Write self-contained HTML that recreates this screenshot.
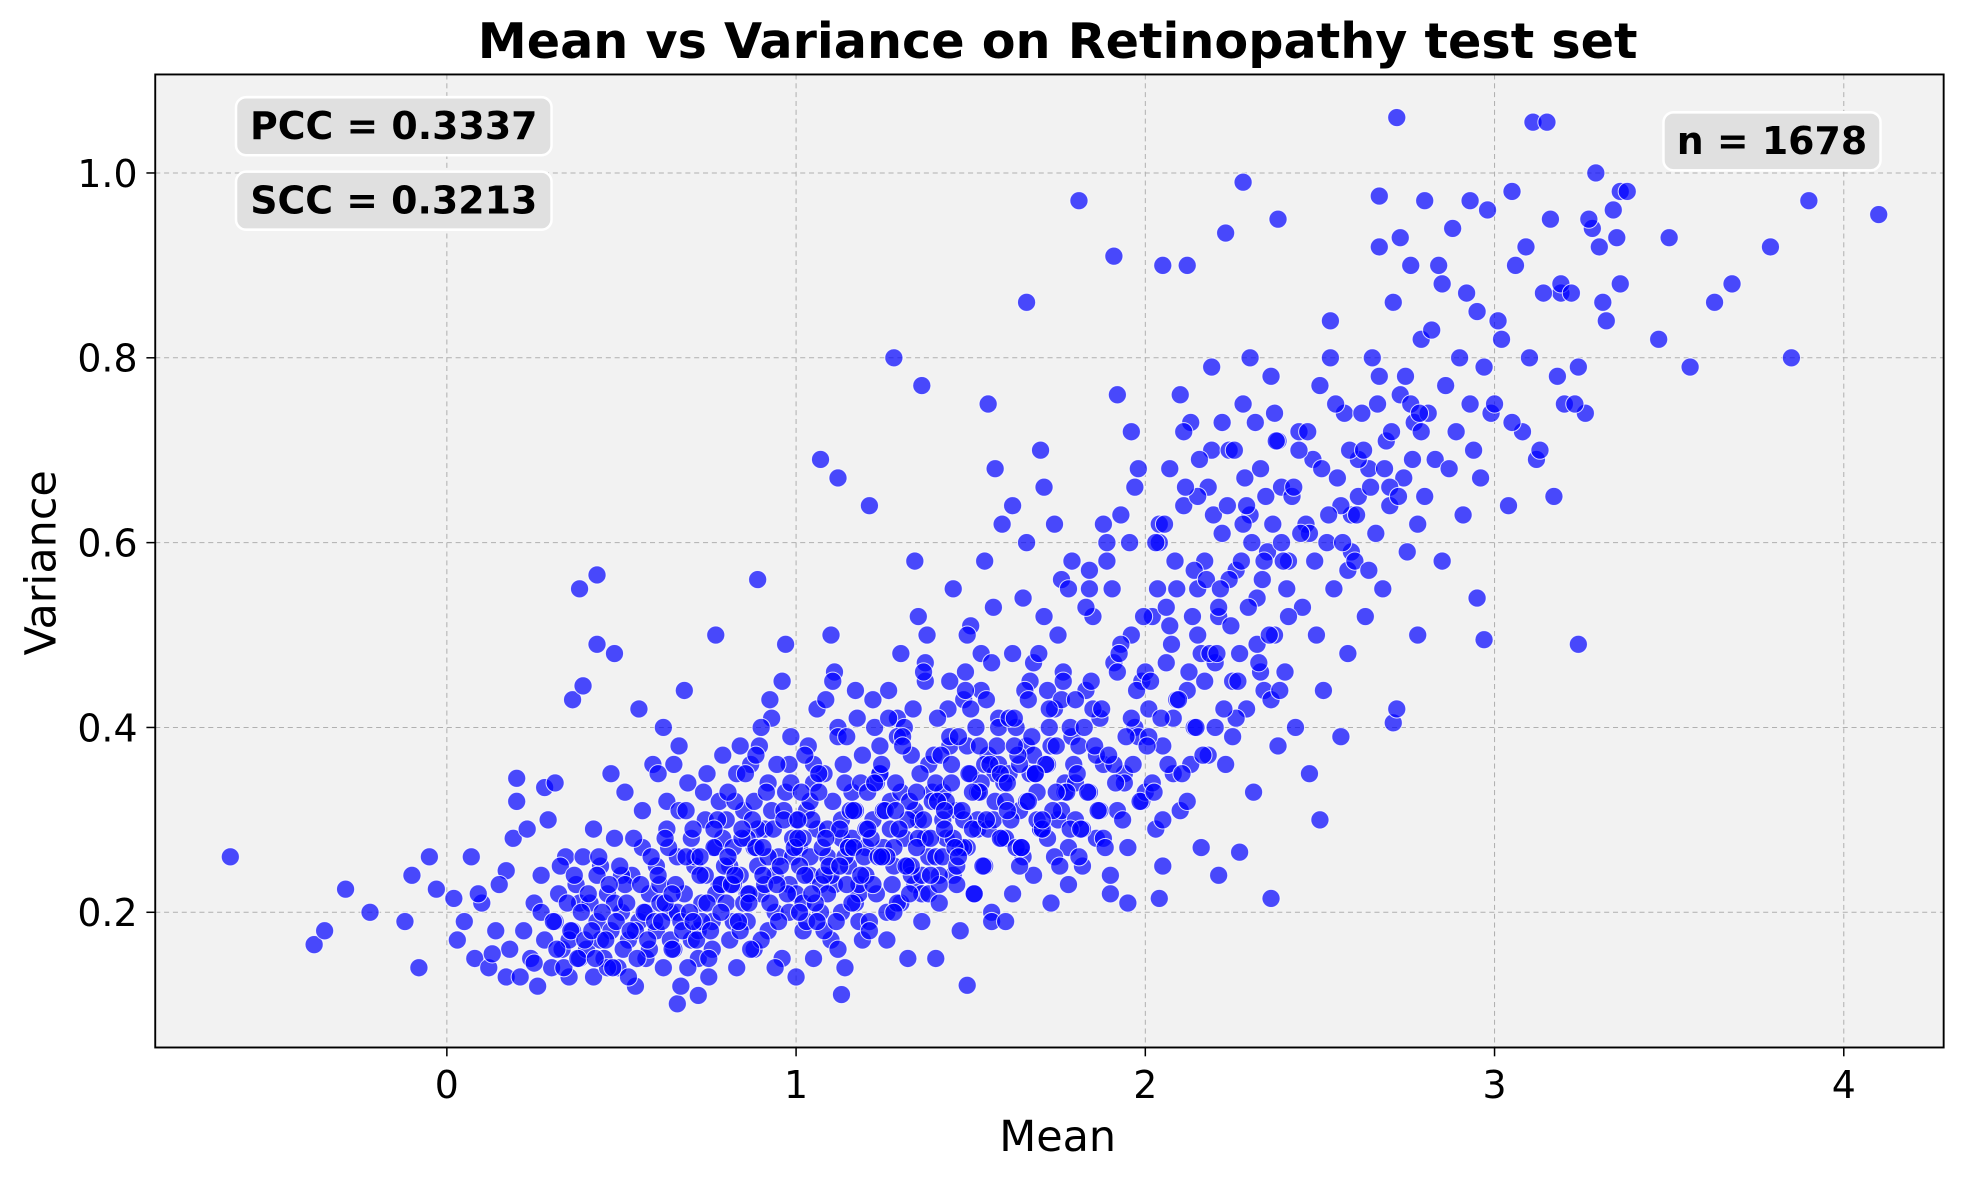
<!DOCTYPE html>
<html><head><meta charset="utf-8"><title>Mean vs Variance</title>
<style>
html,body{margin:0;padding:0;background:#fff;}
svg{display:block;}
text{font-family:"DejaVu Sans","Liberation Sans",sans-serif;}
</style></head>
<body>
<svg id="chart" width="1979" height="1180" viewBox="0 0 1568 935" preserveAspectRatio="none" xmlns="http://www.w3.org/2000/svg">
  <rect x="0" y="0" width="1568" height="935" fill="#fff"/>
  <rect x="123" y="59" width="1417" height="771" fill="#f2f2f2"/>
  <g id="grid"></g>
  <g id="points"></g>
  <rect x="123" y="59" width="1417" height="771" fill="none" stroke="#000" stroke-width="1.5"/>
  <g id="axes"></g>
  <text x="838" y="46" text-anchor="middle" font-size="39" font-weight="bold">Mean vs Variance on Retinopathy test set</text>
  <text x="838" y="912" text-anchor="middle" font-size="34">Mean</text>
  <text transform="translate(44,446) rotate(-90)" text-anchor="middle" font-size="34">Variance</text>
  <g>
    <rect x="187" y="77" width="250" height="46" rx="8" fill="#e0e0e0" stroke="#fff" stroke-width="2"/>
    <text x="312" y="110" text-anchor="middle" font-size="30" font-weight="bold">PCC = 0.3337</text>
  </g>
  <g>
    <rect x="187" y="136" width="250" height="46" rx="8" fill="#e0e0e0" stroke="#fff" stroke-width="2"/>
    <text x="312" y="169" text-anchor="middle" font-size="30" font-weight="bold">SCC = 0.3213</text>
  </g>
  <g>
    <rect x="1318" y="89" width="172" height="46" rx="8" fill="#e0e0e0" stroke="#fff" stroke-width="2"/>
    <text x="1404" y="122" text-anchor="middle" font-size="30" font-weight="bold">n = 1678</text>
  </g>
</svg>
<script>
const xTicks=[0,1,2,3,4];
const yTicks=[0.2,0.4,0.6,0.8,1.0];
const yTickLabels=["0.2","0.4","0.6","0.8","1.0"];
const xDomain=[-0.835,4.286];
const yDomain=[0.0537,1.1066];
const meanValues=[
-0.62,-0.38,-0.35,-0.29,-0.22,-0.12,-0.08,-0.10,-0.05,-0.03,0.02,0.07,0.17,0.20,0.20,0.28,0.36,0.39,0.38,0.43,0.43,0.48,0.77,0.89,1.07,1.12,1.28,1.36,1.66,1.81,1.91,2.05,2.12,2.23,2.28,2.72,2.38,2.67,2.80,2.93,3.05,3.11,3.15,3.19,3.29,3.36,3.50,3.68,3.79,3.85,3.90,4.10,3.63,3.56,3.47,3.24,2.97,2.71,2.36,2.04,2.21,2.27,1.49,1.13,0.66,0.72,
0.03,0.05,0.08,0.10,0.12,0.14,0.15,0.17,0.18,0.19,0.09,0.13,
0.21,0.22,0.24,0.25,0.26,0.27,0.28,0.29,0.30,0.31,0.32,0.33,0.34,0.35,0.36,0.37,0.38,0.39,0.23,0.27,0.31,0.35,0.38,0.25,
0.40,0.41,0.42,0.43,0.44,0.45,0.46,0.47,0.48,0.49,0.50,0.51,0.52,0.53,0.54,0.55,0.56,0.57,0.58,0.59,0.42,0.44,0.46,0.48,0.50,0.52,0.54,0.56,0.58,0.47,0.51,0.55,0.43,0.57,
0.60,0.61,0.62,0.63,0.64,0.65,0.66,0.67,0.68,0.69,0.70,0.71,0.72,0.73,0.74,0.75,0.76,0.77,0.78,0.79,0.60,0.62,0.64,0.66,0.68,0.70,0.72,0.74,0.76,0.78,0.61,0.65,0.69,0.73,0.77,0.63,0.67,0.71,0.75,0.79,
0.80,0.81,0.82,0.83,0.84,0.85,0.86,0.87,0.88,0.89,0.90,0.91,0.92,0.93,0.94,0.95,0.96,0.97,0.98,0.99,0.80,0.82,0.84,0.86,0.88,0.90,0.92,0.94,0.96,0.98,0.81,0.83,0.85,0.87,0.89,0.91,0.93,0.95,0.97,0.99,0.82,0.86,0.90,0.94,0.98,0.84,0.88,0.92,
1.00,1.01,1.02,1.03,1.04,1.05,1.06,1.07,1.08,1.09,1.10,1.11,1.12,1.13,1.14,1.15,1.16,1.17,1.18,1.19,1.00,1.02,1.04,1.06,1.08,1.10,1.12,1.14,1.16,1.18,1.01,1.03,1.05,1.07,1.09,1.11,1.13,1.15,1.17,1.19,1.00,1.04,1.08,1.12,1.16,1.02,1.06,1.10,1.14,1.18,1.05,1.09,1.13,1.17,1.01,1.15,
1.20,1.21,1.22,1.23,1.24,1.25,1.26,1.27,1.28,1.29,1.30,1.31,1.32,1.33,1.34,1.35,1.36,1.37,1.38,1.39,1.20,1.22,1.24,1.26,1.28,1.30,1.32,1.34,1.36,1.38,1.21,1.23,1.25,1.27,1.29,1.31,1.33,1.35,1.37,1.39,1.20,1.24,1.28,1.32,1.36,1.22,1.26,1.30,1.34,1.38,1.25,1.29,1.33,1.37,1.21,1.35,
1.40,1.41,1.42,1.43,1.44,1.45,1.46,1.47,1.48,1.49,1.50,1.51,1.52,1.53,1.54,1.55,1.56,1.57,1.58,1.59,1.40,1.42,1.44,1.46,1.48,1.50,1.52,1.54,1.56,1.58,1.41,1.43,1.45,1.47,1.49,1.51,1.53,1.55,1.57,1.59,1.40,1.44,1.48,1.52,1.56,1.42,1.46,1.50,1.54,1.58,1.45,1.49,1.53,1.57,1.41,1.55,
1.60,1.61,1.62,1.63,1.64,1.65,1.66,1.67,1.68,1.69,1.70,1.71,1.72,1.73,1.74,1.75,1.76,1.77,1.78,1.79,1.60,1.62,1.64,1.66,1.68,1.70,1.72,1.74,1.76,1.78,1.61,1.63,1.65,1.67,1.69,1.71,1.73,1.75,1.77,1.79,1.60,1.64,1.68,1.72,1.76,1.62,1.66,1.70,1.74,1.78,
1.80,1.81,1.82,1.83,1.84,1.85,1.86,1.87,1.88,1.89,1.90,1.91,1.92,1.93,1.94,1.95,1.96,1.97,1.98,1.99,1.80,1.82,1.84,1.86,1.88,1.90,1.92,1.94,1.96,1.98,1.81,1.83,1.85,1.87,1.89,1.91,1.93,1.95,1.97,1.99,1.80,1.84,1.88,1.92,1.96,
2.00,2.01,2.02,2.03,2.04,2.05,2.06,2.07,2.08,2.09,2.10,2.11,2.12,2.13,2.14,2.15,2.16,2.17,2.18,2.19,2.00,2.02,2.04,2.06,2.08,2.10,2.12,2.14,2.16,2.18,2.01,2.03,2.05,2.07,2.09,2.11,2.13,2.15,2.17,2.19,2.05,2.15,
2.20,2.21,2.22,2.23,2.24,2.25,2.26,2.27,2.28,2.29,2.30,2.31,2.32,2.33,2.34,2.35,2.36,2.37,2.38,2.39,2.20,2.22,2.24,2.26,2.28,2.30,2.32,2.34,2.36,2.38,2.21,2.25,2.29,2.33,2.37,2.39,
2.40,2.41,2.42,2.43,2.44,2.45,2.46,2.47,2.48,2.49,2.50,2.51,2.52,2.53,2.54,2.55,2.56,2.57,2.58,2.59,2.41,2.44,2.47,2.50,2.53,2.56,2.58,2.59,
2.60,2.61,2.62,2.63,2.64,2.65,2.66,2.67,2.68,2.69,2.70,2.71,2.72,2.73,2.74,2.75,2.76,2.77,2.78,2.79,2.61,2.64,2.67,2.70,2.73,2.76,2.78,2.79,
2.80,2.81,2.82,2.83,2.84,2.85,2.86,2.87,2.88,2.89,2.90,2.91,2.92,2.93,2.94,2.95,2.96,2.97,2.98,2.99,2.85,2.95,
3.00,3.02,3.04,3.06,3.08,3.10,3.12,3.14,3.16,3.18,3.01,3.05,3.09,3.13,3.17,3.19,
3.20,3.22,3.24,3.26,3.28,3.30,3.32,3.34,3.36,3.38,3.23,3.27,3.31,3.35,
0.305,0.315,0.325,0.335,0.345,0.355,0.365,0.375,0.385,0.395,
0.405,0.415,0.425,0.435,0.445,0.455,0.465,0.475,0.485,0.495,0.505,0.515,0.525,0.535,0.545,0.555,0.565,0.575,0.585,0.595,
0.605,0.615,0.625,0.635,0.645,0.655,0.665,0.675,0.685,0.695,0.705,0.715,0.725,0.735,0.745,0.755,0.765,0.775,0.785,0.795,
0.605,0.625,0.645,0.665,0.685,0.705,0.725,0.745,0.765,0.785,
0.805,0.815,0.825,0.835,0.845,0.855,0.865,0.875,0.885,0.895,0.905,0.915,0.925,0.935,0.945,0.955,0.965,0.975,0.985,0.995,
0.805,0.825,0.845,0.865,0.885,0.905,0.925,0.945,0.965,0.985,
1.005,1.015,1.025,1.035,1.045,1.055,1.065,1.075,1.085,1.095,1.105,1.115,1.125,1.135,1.145,1.155,1.165,1.175,1.185,1.195,
1.005,1.025,1.045,1.065,1.085,1.105,1.125,1.145,1.165,1.185,
1.205,1.215,1.225,1.235,1.245,1.255,1.265,1.275,1.285,1.295,1.305,1.315,1.325,1.335,1.345,1.355,1.365,1.375,1.385,1.395,
1.205,1.225,1.245,1.265,1.285,1.305,1.325,1.345,1.365,1.385,
1.405,1.415,1.425,1.435,1.445,1.455,1.465,1.475,1.485,1.495,1.505,1.515,1.525,1.535,1.545,1.555,1.565,1.575,1.585,1.595,
1.405,1.425,1.445,1.465,1.485,1.505,1.525,1.545,1.565,1.585,
1.605,1.615,1.625,1.635,1.645,1.655,1.665,1.675,1.685,1.695,1.705,1.715,1.725,1.735,1.745,1.755,1.765,1.775,1.785,1.795,
1.605,1.625,1.645,1.665,1.685,1.705,1.725,1.745,1.765,1.785,
1.805,1.815,1.825,1.835,1.845,1.855,1.865,1.875,1.885,1.895,1.905,1.915,1.925,1.935,1.945,1.955,1.965,1.975,1.985,1.995,
2.005,2.015,2.025,2.035,2.045,2.055,2.065,2.075,2.085,2.095,2.105,2.115,2.125,2.135,2.145,2.155,2.165,2.175,2.185,2.195,
2.205,2.215,2.225,2.235,2.245,2.255,2.265,2.275,2.285,2.295,2.305,2.315,2.325,2.335,2.345,2.355,2.365,2.375,2.385,2.395,
2.405,2.425,2.445,2.465,2.485,2.505,2.525,2.545,2.565,2.585,
2.605,2.625,2.645,2.665,2.685,2.705,2.725,2.745,2.765,2.785
];
const varianceValues=[
0.26,0.165,0.18,0.225,0.20,0.19,0.14,0.24,0.26,0.225,0.215,0.26,0.245,0.32,0.345,0.335,0.43,0.445,0.55,0.565,0.49,0.48,0.50,0.56,0.69,0.67,0.80,0.77,0.86,0.97,0.91,0.90,0.90,0.935,0.99,1.06,0.95,0.975,0.97,0.97,0.98,1.055,1.055,0.87,1.0,0.98,0.93,0.88,0.92,0.80,0.97,0.955,0.86,0.79,0.82,0.49,0.495,0.405,0.215,0.215,0.24,0.265,0.121,0.111,0.101,0.11,
0.17,0.19,0.15,0.21,0.14,0.18,0.23,0.13,0.16,0.28,0.22,0.155,
0.13,0.18,0.15,0.21,0.12,0.24,0.17,0.30,0.14,0.19,0.22,0.16,0.26,0.13,0.18,0.23,0.15,0.26,0.29,0.20,0.34,0.17,0.21,0.145,
0.16,0.21,0.13,0.19,0.25,0.15,0.22,0.18,0.28,0.14,0.20,0.33,0.17,0.24,0.12,0.19,0.27,0.15,0.22,0.36,0.29,0.17,0.14,0.21,0.24,0.13,0.18,0.31,0.16,0.35,0.23,0.42,0.24,0.20,
0.18,0.23,0.14,0.29,0.20,0.16,0.26,0.12,0.22,0.34,0.17,0.25,0.15,0.21,0.30,0.13,0.19,0.27,0.23,0.37,0.25,0.40,0.17,0.20,0.44,0.28,0.18,0.24,0.16,0.32,0.21,0.36,0.14,0.19,0.22,0.32,0.19,0.26,0.15,0.28,
0.21,0.17,0.27,0.14,0.24,0.31,0.19,0.36,0.16,0.25,0.22,0.29,0.18,0.41,0.20,0.26,0.15,0.33,0.23,0.28,0.30,0.19,0.38,0.22,0.27,0.17,0.34,0.24,0.45,0.20,0.25,0.35,0.21,0.16,0.29,0.23,0.31,0.19,0.49,0.26,0.23,0.28,0.40,0.14,0.36,0.18,0.32,0.26,
0.22,0.27,0.18,0.31,0.24,0.15,0.29,0.20,0.35,0.26,0.17,0.23,0.40,0.28,0.14,0.25,0.33,0.21,0.19,0.37,0.30,0.21,0.26,0.42,0.18,0.24,0.16,0.34,0.28,0.22,0.25,0.19,0.36,0.23,0.29,0.46,0.20,0.27,0.31,0.17,0.13,0.32,0.24,0.39,0.21,0.28,0.19,0.50,0.26,0.23,0.34,0.22,0.30,0.44,0.20,0.27,
0.24,0.19,0.30,0.22,0.35,0.27,0.17,0.32,0.25,0.41,0.21,0.28,0.15,0.37,0.23,0.30,0.19,0.45,0.26,0.33,0.29,0.23,0.38,0.20,0.27,0.48,0.25,0.31,0.22,0.36,0.18,0.34,0.26,0.29,0.21,0.40,0.24,0.52,0.28,0.32,0.27,0.35,0.20,0.30,0.24,0.43,0.26,0.33,0.58,0.22,0.31,0.39,0.25,0.47,0.64,0.28,
0.26,0.21,0.33,0.28,0.38,0.24,0.31,0.18,0.43,0.27,0.35,0.22,0.30,0.48,0.25,0.37,0.20,0.32,0.41,0.28,0.34,0.26,0.45,0.23,0.30,0.51,0.29,0.36,0.19,0.40,0.24,0.32,0.55,0.27,0.38,0.22,0.44,0.29,0.35,0.62,0.15,0.39,0.27,0.33,0.47,0.30,0.25,0.42,0.58,0.36,0.28,0.50,0.34,0.68,0.23,0.75,
0.28,0.35,0.22,0.40,0.31,0.26,0.38,0.45,0.24,0.33,0.29,0.52,0.36,0.21,0.42,0.30,0.56,0.34,0.27,0.39,0.32,0.48,0.25,0.60,0.37,0.29,0.44,0.62,0.31,0.23,0.41,0.27,0.54,0.35,0.30,0.66,0.38,0.50,0.33,0.58,0.19,0.36,0.47,0.28,0.43,0.64,0.32,0.70,0.26,0.55,
0.30,0.38,0.25,0.44,0.33,0.52,0.28,0.41,0.36,0.58,0.22,0.47,0.31,0.63,0.35,0.27,0.50,0.40,0.68,0.32,0.43,0.29,0.55,0.37,0.62,0.24,0.46,0.34,0.72,0.39,0.26,0.53,0.42,0.31,0.60,0.36,0.49,0.21,0.66,0.45,0.34,0.57,0.28,0.76,0.41,
0.33,0.42,0.52,0.29,0.60,0.38,0.47,0.68,0.35,0.55,0.31,0.64,0.44,0.73,0.40,0.50,0.27,0.58,0.37,0.70,0.46,0.34,0.62,0.53,0.41,0.76,0.32,0.57,0.48,0.66,0.39,0.60,0.30,0.51,0.43,0.72,0.36,0.55,0.45,0.79,0.25,0.65,
0.40,0.52,0.61,0.36,0.70,0.45,0.57,0.48,0.75,0.42,0.63,0.33,0.54,0.68,0.44,0.59,0.78,0.50,0.38,0.66,0.47,0.73,0.56,0.41,0.62,0.80,0.49,0.58,0.43,0.71,0.53,0.39,0.64,0.46,0.74,0.60,
0.46,0.58,0.65,0.40,0.72,0.53,0.62,0.35,0.69,0.50,0.77,0.44,0.60,0.84,0.55,0.67,0.39,0.74,0.57,0.63,0.52,0.70,0.61,0.30,0.80,0.64,0.48,0.59,
0.58,0.65,0.74,0.52,0.68,0.80,0.61,0.92,0.55,0.71,0.64,0.86,0.42,0.76,0.67,0.59,0.90,0.73,0.62,0.82,0.69,0.57,0.78,0.66,0.93,0.75,0.50,0.72,
0.65,0.74,0.83,0.69,0.90,0.58,0.77,0.68,0.94,0.72,0.80,0.63,0.87,0.75,0.70,0.85,0.67,0.79,0.96,0.74,0.88,0.54,
0.75,0.82,0.64,0.90,0.72,0.80,0.69,0.87,0.95,0.78,0.84,0.73,0.92,0.70,0.65,0.88,
0.75,0.87,0.79,0.74,0.94,0.92,0.84,0.96,0.88,0.98,0.75,0.95,0.86,0.93,
0.19,0.16,0.25,0.14,0.21,0.18,0.24,0.15,0.20,0.17,
0.22,0.18,0.15,0.26,0.20,0.17,0.23,0.14,0.19,0.25,0.16,0.21,0.18,0.28,0.15,0.23,0.20,0.17,0.26,0.19,
0.24,0.19,0.21,0.27,0.16,0.23,0.31,0.18,0.26,0.20,0.29,0.17,0.24,0.33,0.21,0.18,0.27,0.30,0.20,0.25,
0.35,0.28,0.22,0.38,0.31,0.19,0.26,0.35,0.29,0.23,
0.26,0.23,0.32,0.19,0.28,0.35,0.22,0.30,0.27,0.38,0.24,0.33,0.21,0.29,0.36,0.25,0.31,0.22,0.39,0.27,
0.33,0.24,0.29,0.21,0.37,0.27,0.43,0.23,0.30,0.34,
0.28,0.33,0.24,0.38,0.30,0.21,0.35,0.27,0.43,0.25,0.32,0.19,0.29,0.36,0.23,0.31,0.27,0.41,0.34,0.26,
0.30,0.37,0.22,0.33,0.28,0.45,0.25,0.39,0.31,0.24,
0.33,0.28,0.40,0.26,0.36,0.31,0.44,0.23,0.34,0.29,0.39,0.25,0.32,0.42,0.27,0.35,0.30,0.50,0.24,0.37,
0.29,0.34,0.26,0.41,0.31,0.38,0.22,0.33,0.46,0.28,
0.32,0.37,0.29,0.42,0.34,0.27,0.39,0.31,0.46,0.35,0.29,0.40,0.33,0.25,0.43,0.36,0.30,0.38,0.28,0.34,
0.41,0.31,0.36,0.26,0.44,0.33,0.38,0.30,0.53,0.35,
0.34,0.30,0.41,0.37,0.27,0.44,0.32,0.39,0.35,0.48,0.29,0.36,0.42,0.31,0.38,0.25,0.46,0.33,0.40,0.36,
0.31,0.38,0.27,0.43,0.35,0.30,0.40,0.33,0.45,0.29,
0.35,0.29,0.40,0.33,0.45,0.38,0.31,0.42,0.27,0.37,0.55,0.34,0.48,0.30,0.39,0.60,0.36,0.44,0.32,0.52,
0.38,0.45,0.33,0.55,0.41,0.62,0.36,0.49,0.58,0.43,0.35,0.66,0.46,0.52,0.40,0.69,0.37,0.56,0.48,0.63,
0.48,0.55,0.42,0.64,0.51,0.70,0.45,0.58,0.67,0.53,0.60,0.73,0.47,0.56,0.65,0.50,0.62,0.71,0.44,0.58,
0.55,0.66,0.61,0.72,0.58,0.68,0.63,0.75,0.60,0.70,
0.63,0.70,0.66,0.75,0.68,0.72,0.65,0.78,0.69,0.74
];

const PL=123,PR=1540,PT=59,PB=830;
function xScale(v){return PL+(v-xDomain[0])/(xDomain[1]-xDomain[0])*(PR-PL);}
function yScale(v){return PB-(v-yDomain[0])/(yDomain[1]-yDomain[0])*(PB-PT);}
const NS="http://www.w3.org/2000/svg";
const grid=document.getElementById('grid');
const axes=document.getElementById('axes');
const pts=document.getElementById('points');
function mk(tag,attrs,parent){const e=document.createElementNS(NS,tag);for(const k in attrs)e.setAttribute(k,attrs[k]);parent.appendChild(e);return e;}

xTicks.forEach(function(t){
  const x=xScale(t);
  const g=mk('line',{x1:x,x2:x,y1:PT,y2:PB,stroke:'#b0b0b0','stroke-width':0.8,'stroke-dasharray':'4,3'},grid);
  
  
  const tk=mk('line',{x1:x,x2:x,y1:PB,y2:PB+7,stroke:'#000','stroke-width':1.2},axes);
  
  
  const lb=mk('text',{x:x,y:PB+40,'text-anchor':'middle','font-size':30},axes);
  lb.textContent=String(t);
  
  
});
yTicks.forEach(function(t,i){
  const y=yScale(t);
  const g=mk('line',{x1:PL,x2:PR,y1:y,y2:y,stroke:'#b0b0b0','stroke-width':0.8,'stroke-dasharray':'4,3'},grid);
  
  
  const tk=mk('line',{x1:PL-7,x2:PL,y1:y,y2:y,stroke:'#000','stroke-width':1.2},axes);
  
  
  const lb=mk('text',{x:PL-14,y:y+11,'text-anchor':'end','font-size':30},axes);
  lb.textContent=yTickLabels[i];
  
  
});
for(let i=0;i<Math.min(meanValues.length,varianceValues.length);i++){
  const c=mk('circle',{cx:xScale(meanValues[i]),cy:yScale(varianceValues[i]),r:7.2,fill:'rgba(0,0,255,0.7)',stroke:'#ffffff','stroke-width':0.8,'stroke-opacity':0.8},pts);
  
  
}
</script>
</body></html>
